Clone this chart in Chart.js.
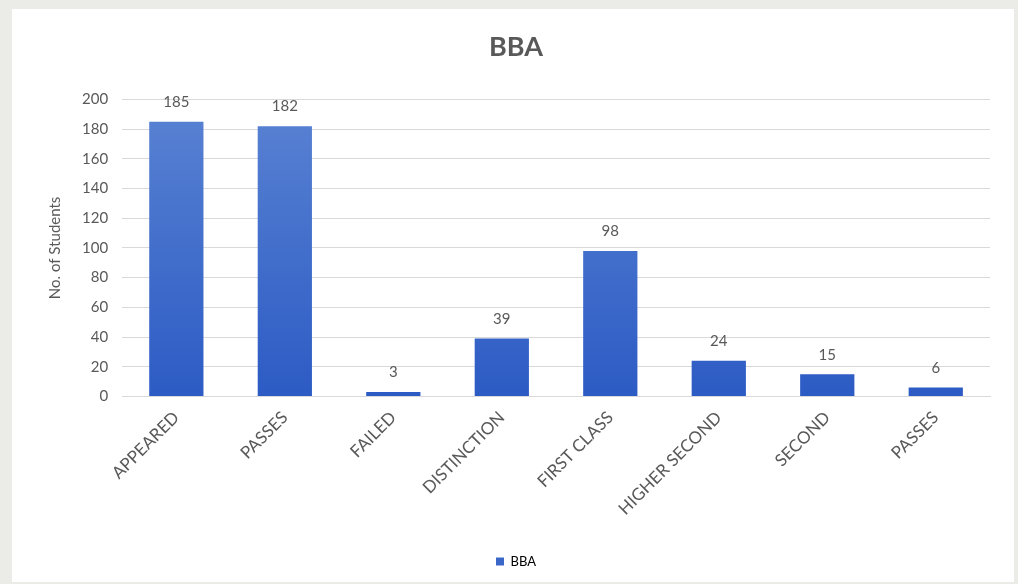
<!DOCTYPE html>
<html>
<head>
<meta charset="utf-8">
<script src="https://cdn.jsdelivr.net/npm/chart.js@4.4.0/dist/chart.umd.min.js"></script>
<style>
  html, body { margin: 0; padding: 0; background: #ebebe8; }
  #panel {
    position: absolute; left: 12px; top: 9px;
    width: 1002px; height: 573px; background: #ffffff;
  }
  #myChart { display: block; }
</style>
</head>
<body>
<div id="panel"><canvas id="myChart" width="1002" height="573"></canvas></div>
<script>
// chart data
const categories = ['APPEARED', 'PASSES', 'FAILED', 'DISTINCTION', 'FIRST CLASS', 'HIGHER SECOND', 'SECOND', 'PASSES'];
const bbaValues = [185, 182, 3, 39, 98, 24, 15, 6];
const seriesName = 'BBA';

const textGrey = '#595959';
const fontFamily = 'Lato, "Open Sans", sans-serif';

// draws the number above each bar
const valueLabels = {
  id: 'valueLabels',
  afterDatasetsDraw(chart) {
    const ctx = chart.ctx;
    const meta = chart.getDatasetMeta(0);
    ctx.save();
    ctx.font = '15px ' + fontFamily;
    ctx.fillStyle = textGrey;
    ctx.textAlign = 'center';
    ctx.textBaseline = 'bottom';
    meta.data.forEach(function (bar, i) {
      ctx.fillText(bbaValues[i], bar.x, bar.y - 12);
    });
    ctx.restore();
  }
};

function barGradient(context) {
  const chart = context.chart;
  const area = chart.chartArea;
  if (!area) return '#3b68c8';
  const g = chart.ctx.createLinearGradient(0, area.top, 0, area.bottom);
  g.addColorStop(0, '#5a83d3');
  g.addColorStop(1, '#2c5bc4');
  return g;
}

const ctx = document.getElementById('myChart').getContext('2d');
const myBarChart = new Chart(ctx, {
  type: 'bar',
  data: {
    labels: categories,
    datasets: [{
      label: seriesName,
      data: bbaValues,
      backgroundColor: barGradient,
      borderWidth: 0,
      categoryPercentage: 1,
      barPercentage: 0.5
    }]
  },
  options: {
    responsive: false,
    animation: false,
    layout: { padding: { left: 30, right: 24, top: 0, bottom: 4 } },
    plugins: {
      title: {
        display: true,
        text: 'BBA',
        color: textGrey,
        font: { family: fontFamily, size: 27, weight: 'bold' },
        padding: { top: 22, bottom: 36 }
      },
      legend: {
        position: 'bottom',
        labels: {
          color: textGrey,
          font: { family: fontFamily, size: 13 },
          boxWidth: 8,
          boxHeight: 8,
          padding: 10,
          generateLabels: function () {
            return [{ text: seriesName, fillStyle: '#3b68c8', strokeStyle: '#3b68c8', lineWidth: 0 }];
          }
        }
      },
      tooltip: { enabled: false }
    },
    scales: {
      x: {
        grid: { display: false, drawTicks: false },
        border: { color: '#d9d9d9' },
        ticks: {
          color: textGrey,
          font: { family: fontFamily, size: 17 },
          minRotation: 45,
          maxRotation: 45,
          padding: 11
        },
        // leave extra room under the rotated labels, like the original
        afterFit: function (scale) {
          scale.height += 15;
        }
      },
      y: {
        min: 0,
        max: 200,
        grid: { color: '#d9d9d9', drawTicks: false },
        border: { display: false },
        ticks: {
          stepSize: 20,
          color: textGrey,
          font: { family: fontFamily, size: 15 },
          padding: 14
        },
        title: {
          display: true,
          text: 'No. of Students',
          color: textGrey,
          font: { family: fontFamily, size: 15 },
          padding: { bottom: 4 }
        }
      }
    }
  },
  plugins: [valueLabels]
});
</script>
</body>
</html>
